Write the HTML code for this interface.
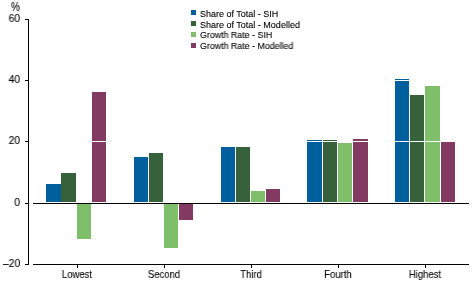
<!DOCTYPE html><html><head><meta charset="utf-8"><style>
html,body{margin:0;padding:0;background:#fff;}
#c{position:relative;width:472px;height:283px;overflow:hidden;background:#fff;font-family:"Liberation Sans",sans-serif;color:#000;}
#c div{position:absolute;}
.t{white-space:nowrap;transform-origin:0 0;line-height:1;will-change:transform;-webkit-text-stroke:0.1px #000;}
</style></head><body><div id="c">
<div style="left:46px;top:184px;width:15px;height:18px;background:#00609e"></div>
<div style="left:61px;top:173px;width:15px;height:29px;background:#36613a"></div>
<div style="left:77px;top:204px;width:14px;height:35px;background:#7fbf6a"></div>
<div style="left:92px;top:92px;width:14px;height:110px;background:#823a62"></div>
<div style="left:134px;top:157px;width:14px;height:45px;background:#00609e"></div>
<div style="left:149px;top:153px;width:14px;height:49px;background:#36613a"></div>
<div style="left:164px;top:204px;width:14px;height:44px;background:#7fbf6a"></div>
<div style="left:179px;top:204px;width:14px;height:16px;background:#823a62"></div>
<div style="left:221px;top:147px;width:14px;height:55px;background:#00609e"></div>
<div style="left:236px;top:147px;width:14px;height:55px;background:#36613a"></div>
<div style="left:251px;top:191px;width:14px;height:11px;background:#7fbf6a"></div>
<div style="left:266px;top:189px;width:14px;height:13px;background:#823a62"></div>
<div style="left:307px;top:140px;width:15px;height:62px;background:#00609e"></div>
<div style="left:323px;top:140px;width:14px;height:62px;background:#36613a"></div>
<div style="left:338px;top:143px;width:14px;height:59px;background:#7fbf6a"></div>
<div style="left:353px;top:139px;width:15px;height:63px;background:#823a62"></div>
<div style="left:395px;top:79px;width:14px;height:123px;background:#00609e"></div>
<div style="left:410px;top:95px;width:14px;height:107px;background:#36613a"></div>
<div style="left:425px;top:86px;width:15px;height:116px;background:#7fbf6a"></div>
<div style="left:441px;top:142px;width:14px;height:60px;background:#823a62"></div>
<div style="left:33px;top:80px;width:436px;height:1px;background:#fff"></div>
<div style="left:33px;top:141px;width:436px;height:1px;background:#fff"></div>
<div style="left:33px;top:203px;width:436px;height:1px;background:#000"></div>
<div style="left:33px;top:264px;width:436px;height:1px;background:#000"></div>
<div style="left:28px;top:19px;width:1px;height:246px;background:#000"></div>
<div style="left:25px;top:19px;width:3px;height:1px;background:#000"></div>
<div style="left:25px;top:80px;width:3px;height:1px;background:#000"></div>
<div style="left:25px;top:141px;width:3px;height:1px;background:#000"></div>
<div style="left:25px;top:203px;width:3px;height:1px;background:#000"></div>
<div style="left:25px;top:264px;width:3px;height:1px;background:#000"></div>
<div style="left:77px;top:265px;width:1px;height:3px;background:#000"></div>
<div style="left:164px;top:265px;width:1px;height:3px;background:#000"></div>
<div style="left:251px;top:265px;width:1px;height:3px;background:#000"></div>
<div style="left:338px;top:265px;width:1px;height:3px;background:#000"></div>
<div style="left:425px;top:265px;width:1px;height:3px;background:#000"></div>
<div style="left:191px;top:10px;width:5px;height:5px;background:#00609e"></div>
<div style="left:191px;top:21px;width:5px;height:5px;background:#36613a"></div>
<div style="left:191px;top:32px;width:5px;height:5px;background:#7fbf6a"></div>
<div style="left:191px;top:43px;width:5px;height:5px;background:#823a62"></div>
<div class="t" style="left:200px;top:10px;font-size:9px;transform:scaleX(1.0);">Share of Total - SIH</div>
<div class="t" style="left:200px;top:20.7px;font-size:9px;transform:scaleX(1.0);">Share of Total - Modelled</div>
<div class="t" style="left:200px;top:31.3px;font-size:9px;transform:scaleX(0.982);">Growth Rate - SIH</div>
<div class="t" style="left:200px;top:42px;font-size:9px;transform:scaleX(0.982);">Growth Rate - Modelled</div>
<div class="t" style="right:451.6px;top:13px;font-size:11px;transform:scaleX(0.95);transform-origin:100% 0;">60</div>
<div class="t" style="right:451.6px;top:74px;font-size:11px;transform:scaleX(0.95);transform-origin:100% 0;">40</div>
<div class="t" style="right:451.6px;top:135px;font-size:11px;transform:scaleX(0.95);transform-origin:100% 0;">20</div>
<div class="t" style="right:451.6px;top:197px;font-size:11px;transform:scaleX(0.95);transform-origin:100% 0;">0</div>
<div class="t" style="right:451.6px;top:258px;font-size:11px;transform:scaleX(0.95);transform-origin:100% 0;">&#8211;20</div>
<div class="t" style="left:11px;top:1px;font-size:12.5px;transform:scaleX(0.8);">%</div>
<div class="t" style="left:37px;width:80px;text-align:center;top:269px;font-size:11px;transform:scaleX(0.86);transform-origin:50% 0;">Lowest</div>
<div class="t" style="left:124px;width:80px;text-align:center;top:269px;font-size:11px;transform:scaleX(0.86);transform-origin:50% 0;">Second</div>
<div class="t" style="left:211px;width:80px;text-align:center;top:269px;font-size:11px;transform:scaleX(0.86);transform-origin:50% 0;">Third</div>
<div class="t" style="left:298px;width:80px;text-align:center;top:269px;font-size:11px;transform:scaleX(0.86);transform-origin:50% 0;">Fourth</div>
<div class="t" style="left:385px;width:80px;text-align:center;top:269px;font-size:11px;transform:scaleX(0.86);transform-origin:50% 0;">Highest</div>
</div></body></html>
